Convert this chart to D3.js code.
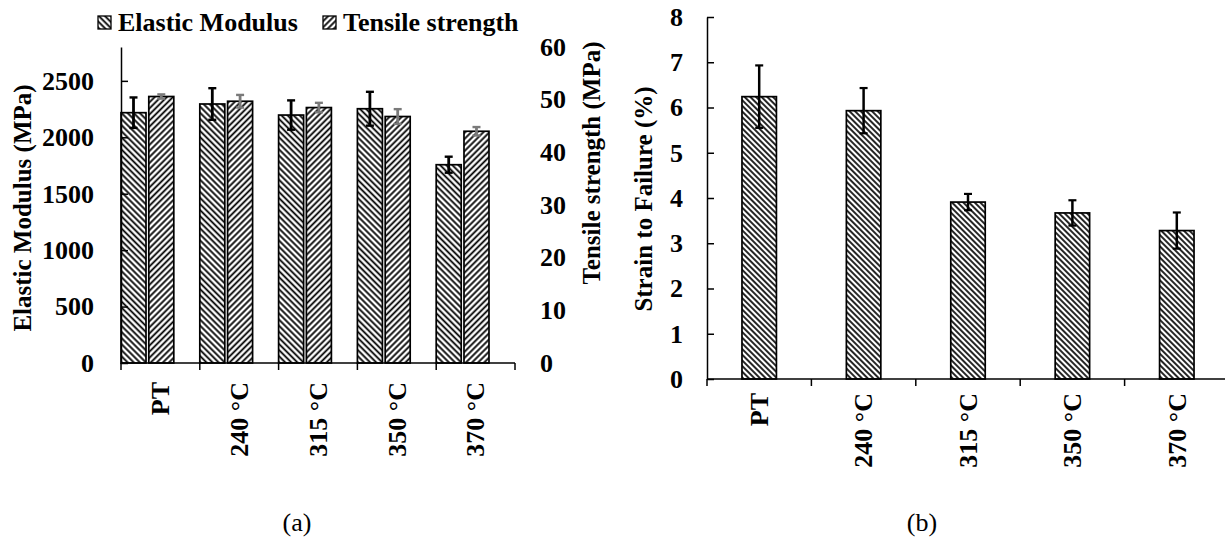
<!DOCTYPE html>
<html>
<head>
<meta charset="utf-8">
<script src="https://cdn.jsdelivr.net/npm/d3@7/dist/d3.min.js"></script>
<style>
  html, body { margin: 0; padding: 0; background: #fff; }
  svg { display: block; }
  text { font-family: "Liberation Serif", "Times New Roman", serif; fill: #000; }
</style>
</head>
<body>
<svg id="chart" width="1225" height="550"></svg>
<script>
// ---- data ----
const categories = ["PT", "240 °C", "315 °C", "350 °C", "370 °C"];
const seriesNames = ["Elastic Modulus", "Tensile strength"];

const elasticModulus    = [2218, 2295, 2197, 2253, 1757];   // MPa
const elasticModulusErr = [135, 140, 130, 150, 71];
const tensileStrength    = [50.6, 49.7, 48.5, 46.8, 44.0];  // MPa
const tensileStrengthErr = [0.4, 1.2, 0.9, 1.4, 0.8];
const strainToFailure    = [6.24, 5.93, 3.91, 3.67, 3.28];  // %
const strainToFailureErr = [0.69, 0.50, 0.18, 0.28, 0.40];

const modulusTicks  = [0, 500, 1000, 1500, 2000, 2500];
const strengthTicks = [0, 10, 20, 30, 40, 50, 60];
const strainTicks   = [0, 1, 2, 3, 4, 5, 6, 7, 8];
const captions = ["(a)", "(b)"];

// ---- setup ----
const svg = d3.select("#chart");
const TICK_FONT = 26;
const TITLE_FONT = 25;
const LEGEND_FONT = 26;
const plain = d3.format("d");

// hatch patterns
const defs = svg.append("defs");
function hatch(id, angle, spacing, width) {
  const p = defs.append("pattern")
    .attr("id", id)
    .attr("patternUnits", "userSpaceOnUse")
    .attr("width", spacing).attr("height", spacing)
    .attr("patternTransform", `rotate(${angle})`);
  p.append("rect").attr("width", spacing).attr("height", spacing).attr("fill", "#fff");
  p.append("line").attr("x1", spacing / 2).attr("x2", spacing / 2)
    .attr("y1", 0).attr("y2", spacing)
    .attr("stroke", "#000").attr("stroke-width", width);
}
hatch("hatch-down", -45, 4.3, 1.8);   // "\\\\" lines
hatch("hatch-up", 45, 4.3, 1.8);      // "////" lines
hatch("hatch-down-b", -45, 4.0, 1.7);

function styleTicks(sel, size) {
  sel.selectAll("text")
    .style("font-size", size + "px").style("font-weight", "bold")
    .style("font-family", "Liberation Serif, Times New Roman, serif").attr("fill", "#000");
}

// ================= panel (a) =================
const A = { left: 121, right: 515, top: 47, bottom: 363 };

const xA = d3.scaleBand().domain(categories).range([A.left, A.right]).padding(0);
const xSub = d3.scaleBand().domain(seriesNames)
  .range([0, xA.bandwidth() * 0.67]).paddingInner(0.1).paddingOuter(0);
const yMod = d3.scaleLinear().domain([0, 2800]).range([A.bottom, A.top]);
const yStr = d3.scaleLinear().domain([0, 60]).range([A.bottom, A.top]);

const gA = svg.append("g");

const rowsA = categories.map((c, i) => ({
  c,
  vals: [
    { s: seriesNames[0], v: elasticModulus[i], e: elasticModulusErr[i], y: yMod, fill: "url(#hatch-down)", ec: "#000" },
    { s: seriesNames[1], v: tensileStrength[i], e: tensileStrengthErr[i], y: yStr, fill: "url(#hatch-up)", ec: "#7a7a7a" }
  ]
}));

const groups = gA.selectAll("g.cat").data(rowsA).join("g")
  .attr("class", "cat")
  .attr("transform", d => `translate(${xA(d.c)},0)`);

groups.selectAll("rect").data(d => d.vals).join("rect")
  .attr("x", d => xSub(d.s))
  .attr("width", xSub.bandwidth())
  .attr("y", d => d.y(d.v))
  .attr("height", d => d.y(0) - d.y(d.v))
  .attr("fill", d => d.fill)
  .attr("stroke", "#000").attr("stroke-width", 1.7);

// error bars
const errA = groups.selectAll("g.err").data(d => d.vals).join("g").attr("class", "err");
errA.append("line")
  .attr("x1", d => xSub(d.s) + xSub.bandwidth() / 2)
  .attr("x2", d => xSub(d.s) + xSub.bandwidth() / 2)
  .attr("y1", d => d.y(d.v - d.e)).attr("y2", d => d.y(d.v + d.e))
  .attr("stroke", d => d.ec).attr("stroke-width", 2.8);
[-1, 1].forEach(sign => {
  errA.append("line")
    .attr("x1", d => xSub(d.s) + xSub.bandwidth() / 2 - 4)
    .attr("x2", d => xSub(d.s) + xSub.bandwidth() / 2 + 4)
    .attr("y1", d => d.y(d.v + sign * d.e))
    .attr("y2", d => d.y(d.v + sign * d.e))
    .attr("stroke", d => d.ec).attr("stroke-width", 2.4);
});

// left axis: ticks point inward, labels outside
const axL = gA.append("g").attr("transform", `translate(${A.left},0)`)
  .call(d3.axisLeft(yMod).tickValues(modulusTicks).tickFormat(plain)
    .tickSizeInner(-7).tickSizeOuter(0).tickPadding(27));
axL.selectAll("path, line").attr("stroke", "#000").attr("stroke-width", 1.5);
styleTicks(axL, TICK_FONT);

// right axis: labels only
const axR = gA.append("g").attr("transform", `translate(${A.right + 25},0)`)
  .call(d3.axisRight(yStr).tickValues(strengthTicks).tickFormat(plain).tickSize(0).tickPadding(0));
axR.select(".domain").remove();
styleTicks(axR, TICK_FONT);

// category axis with boundary ticks
gA.append("line").attr("x1", A.left).attr("x2", A.right)
  .attr("y1", A.bottom).attr("y2", A.bottom)
  .attr("stroke", "#000").attr("stroke-width", 1.6);
const boundsA = categories.map(c => xA(c)).concat([A.right]);
gA.selectAll("line.bt").data(boundsA).join("line").attr("class", "bt")
  .attr("x1", d => d).attr("x2", d => d)
  .attr("y1", A.bottom).attr("y2", A.bottom + 7)
  .attr("stroke", "#000").attr("stroke-width", 1.5);
gA.selectAll("text.cat").data(categories).join("text").attr("class", "cat")
  .attr("transform", d => `translate(${xA(d) + xA.bandwidth() / 2},${A.bottom + 19}) rotate(-90)`)
  .attr("text-anchor", "end").attr("dy", "0.34em")
  .style("font-size", TICK_FONT + "px").style("font-weight", "bold")
  .text(d => d);

// axis titles
gA.append("text")
  .attr("transform", `translate(22,208) rotate(-90)`)
  .attr("text-anchor", "middle").attr("dy", "0.35em")
  .style("font-size", TITLE_FONT + "px").style("font-weight", "bold")
  .text("Elastic Modulus (MPa)");
gA.append("text")
  .attr("transform", `translate(591,163) rotate(-90)`)
  .attr("text-anchor", "middle").attr("dy", "0.35em")
  .style("font-size", TITLE_FONT + "px").style("font-weight", "bold")
  .text("Tensile strength (MPa)");

// legend
const legend = gA.append("g");
const legendX = [98, 323];
seriesNames.forEach((name, i) => {
  const g = legend.append("g").attr("transform", `translate(${legendX[i]},0)`);
  g.append("rect").attr("x", 0).attr("y", 16).attr("width", 13).attr("height", 13)
    .attr("fill", i === 0 ? "url(#hatch-down)" : "url(#hatch-up)")
    .attr("stroke", "#000").attr("stroke-width", 1.3);
  g.append("text").attr("x", 20).attr("y", 31)
    .style("font-size", LEGEND_FONT + "px").style("font-weight", "bold")
    .text(name);
});

// ================= panel (b) =================
const B = { left: 707, right: 1229, top: 17, bottom: 379 };
const xB = d3.scaleBand().domain(categories).range([B.left, B.right])
  .paddingInner(0.67).paddingOuter(0.335);
const yB = d3.scaleLinear().domain([0, 8]).range([B.bottom, B.top]);
const gB = svg.append("g");

gB.selectAll("rect.bar").data(categories).join("rect").attr("class", "bar")
  .attr("x", d => xB(d)).attr("width", xB.bandwidth())
  .attr("y", (d, i) => yB(strainToFailure[i]))
  .attr("height", (d, i) => yB(0) - yB(strainToFailure[i]))
  .attr("fill", "url(#hatch-down-b)")
  .attr("stroke", "#000").attr("stroke-width", 1.7);

const errB = gB.selectAll("g.err").data(categories).join("g").attr("class", "err");
errB.append("line")
  .attr("x1", d => xB(d) + xB.bandwidth() / 2).attr("x2", d => xB(d) + xB.bandwidth() / 2)
  .attr("y1", (d, i) => yB(strainToFailure[i] - strainToFailureErr[i]))
  .attr("y2", (d, i) => yB(strainToFailure[i] + strainToFailureErr[i]))
  .attr("stroke", "#000").attr("stroke-width", 2.5);
[-1, 1].forEach(sign => {
  errB.append("line")
    .attr("x1", d => xB(d) + xB.bandwidth() / 2 - 4).attr("x2", d => xB(d) + xB.bandwidth() / 2 + 4)
    .attr("y1", (d, i) => yB(strainToFailure[i] + sign * strainToFailureErr[i]))
    .attr("y2", (d, i) => yB(strainToFailure[i] + sign * strainToFailureErr[i]))
    .attr("stroke", "#000").attr("stroke-width", 2.2);
});

const axB = gB.append("g").attr("transform", `translate(${B.left},0)`)
  .call(d3.axisLeft(yB).tickValues(strainTicks).tickFormat(plain)
    .tickSizeInner(-7).tickSizeOuter(0).tickPadding(24));
axB.selectAll("path, line").attr("stroke", "#000").attr("stroke-width", 1.5);
styleTicks(axB, TICK_FONT);

gB.append("line").attr("x1", B.left).attr("x2", B.right)
  .attr("y1", B.bottom).attr("y2", B.bottom)
  .attr("stroke", "#000").attr("stroke-width", 1.6);
const boundsB = categories.map((c, i) => B.left + i * xB.step()).concat([B.right]);
gB.selectAll("line.bt").data(boundsB).join("line").attr("class", "bt")
  .attr("x1", d => d).attr("x2", d => d)
  .attr("y1", B.bottom).attr("y2", B.bottom + 7)
  .attr("stroke", "#000").attr("stroke-width", 1.5);
gB.selectAll("text.cat").data(categories).join("text").attr("class", "cat")
  .attr("transform", d => `translate(${xB(d) + xB.bandwidth() / 2},${B.bottom + 14}) rotate(-90)`)
  .attr("text-anchor", "end").attr("dy", "0.34em")
  .style("font-size", TICK_FONT + "px").style("font-weight", "bold")
  .text(d => d);

gB.append("text")
  .attr("transform", `translate(643,199) rotate(-90)`)
  .attr("text-anchor", "middle").attr("dy", "0.35em")
  .style("font-size", TITLE_FONT + "px").style("font-weight", "bold")
  .text("Strain to Failure (%)");

// captions
const captionX = [297, 922];
svg.selectAll("text.caption").data(captions).join("text").attr("class", "caption")
  .attr("x", (d, i) => captionX[i]).attr("y", 531)
  .attr("text-anchor", "middle")
  .style("font-size", "26px")
  .text(d => d);
</script>
</body>
</html>
